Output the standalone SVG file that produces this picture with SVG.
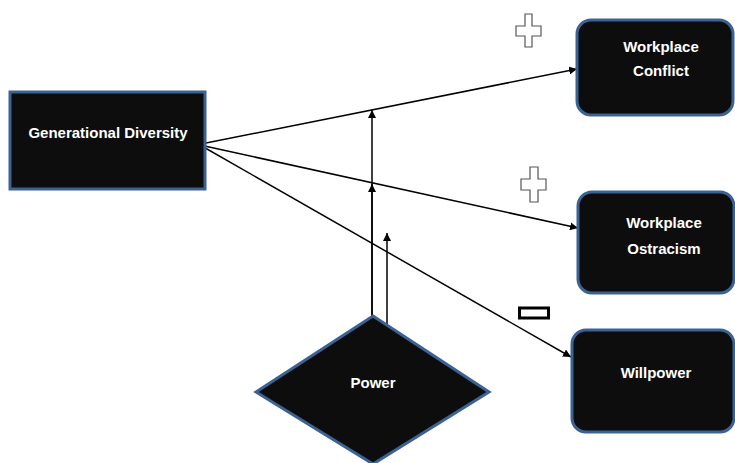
<svg xmlns="http://www.w3.org/2000/svg" width="735" height="463" viewBox="0 0 735 463">
  <style>
    .box { fill: #0d0d0d; stroke: #3b6293; stroke-width: 3; }
    .lbl { fill: #ffffff; font-family: "Liberation Sans", Arial, sans-serif; font-weight: bold; font-size: 15px; text-anchor: middle; }
    .link { stroke: #000000; stroke-width: 1.5; fill: none; marker-end: url(#arrow); }
    .sign { fill: #ffffff; stroke: #555555; stroke-width: 1.2; }
  </style>
  <defs>
    <marker id="arrow" viewBox="0 0 10 10" refX="10" refY="5" markerWidth="8" markerHeight="8" markerUnits="userSpaceOnUse" orient="auto">
      <path d="M0,0 L10,5 L0,10 z" fill="#000000"/>
    </marker>
  </defs>

  <!-- connectors -->
  <g id="connectors">
    <line class="link" x1="166" y1="151" x2="577" y2="69"/>
    <line class="link" x1="200" y1="145" x2="578" y2="228"/>
    <line class="link" x1="200" y1="145" x2="571" y2="357"/>
    <line class="link" x1="372" y1="316" x2="372" y2="110"/>
    <line class="link" x1="372" y1="316" x2="372" y2="184"/>
    <line class="link" x1="387" y1="326" x2="387" y2="233"/>
  </g>

  <g id="generational-diversity">
    <rect class="box" x="10" y="92" width="195" height="97"/>
    <text class="lbl" x="108" y="138">Generational Diversity</text>
  </g>

  <g id="workplace-conflict">
    <rect class="box" x="577" y="20" width="156" height="95" rx="14"/>
    <text class="lbl" x="661" y="52">Workplace</text>
    <text class="lbl" x="661" y="76">Conflict</text>
  </g>

  <g id="workplace-ostracism">
    <rect class="box" x="578" y="192" width="156" height="101" rx="14"/>
    <text class="lbl" x="664" y="228">Workplace</text>
    <text class="lbl" x="664" y="254">Ostracism</text>
  </g>

  <g id="willpower">
    <rect class="box" x="572" y="330" width="162" height="102" rx="14"/>
    <text class="lbl" x="656" y="378">Willpower</text>
  </g>

  <g id="power">
    <polygon class="box" points="373,316 489,392 373,464 256,392"/>
    <text class="lbl" x="373" y="388">Power</text>
  </g>

  <!-- effect signs -->
  <g id="sign-conflict">
    <polygon class="sign" points="525,14 532,14 532,26 541,26 541,36 532,36 532,47 525,47 525,36 516,36 516,26 525,26"/>
  </g>
  <g id="sign-ostracism">
    <polygon class="sign" points="530,167 538,167 538,179 546,179 546,190 538,190 538,202 530,202 530,190 521,190 521,179 530,179"/>
  </g>
  <g id="sign-willpower">
    <rect x="519.5" y="308" width="29" height="10" fill="#ffffff" stroke="#000000" stroke-width="3"/>
  </g>
</svg>
